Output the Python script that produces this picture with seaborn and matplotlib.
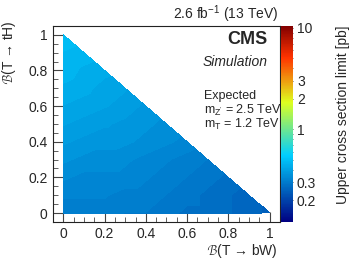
import numpy as np
import matplotlib
matplotlib.use("Agg")
import matplotlib.pyplot as plt
import matplotlib.tri as mtri
from matplotlib.colors import LogNorm, LinearSegmentedColormap
from matplotlib.ticker import MultipleLocator, NullFormatter, LogLocator, FuncFormatter
import seaborn as sns

# B(T->bW) grid values
bw_values = [0.0, 0.1, 0.2, 0.3, 0.4, 0.5, 0.6, 0.7, 0.8, 0.9, 1.0]
# B(T->tH) grid values
th_values = [0.0, 0.1, 0.2, 0.3, 0.4, 0.5, 0.6, 0.7, 0.8, 0.9, 1.0]
# expected limits [pb], one row per B(T->tH) value, columns over B(T->bW) with bW+tH<=1
limit_rows = [
    [0.31, 0.31, 0.31, 0.30, 0.30, 0.29, 0.28, 0.28, 0.27, 0.26, 0.25],
    [0.32, 0.32, 0.32, 0.31, 0.31, 0.30, 0.29, 0.28, 0.27, 0.26],
    [0.34, 0.33, 0.33, 0.33, 0.32, 0.31, 0.30, 0.29, 0.28],
    [0.36, 0.35, 0.35, 0.34, 0.33, 0.32, 0.31, 0.30],
    [0.38, 0.37, 0.36, 0.36, 0.35, 0.34, 0.33],
    [0.40, 0.39, 0.38, 0.37, 0.36, 0.35],
    [0.42, 0.41, 0.40, 0.39, 0.37],
    [0.44, 0.43, 0.41, 0.40],
    [0.46, 0.44, 0.43],
    [0.47, 0.46],
    [0.49],
]
cbar_ticks = [0.2, 0.3, 1, 2, 3, 10]
cbar_ticklabels = ["0.2", "0.3", "1", "2", "3", "10"]

sns.set_style("ticks")
plt.rcParams["font.family"] = ["Liberation Sans", "DejaVu Sans"]
plt.rcParams["mathtext.fontset"] = "custom"
plt.rcParams["mathtext.rm"] = "Liberation Sans"
plt.rcParams["mathtext.it"] = "Liberation Sans:italic"

# ROOT-style rainbow palette
stops = [0.0, 0.34, 0.61, 0.84, 1.0]
reds = [0.0, 0.0, 0.87, 1.0, 0.51]
greens = [0.0, 0.81, 1.0, 0.2, 0.0]
blues = [0.51, 1.0, 0.12, 0.0, 0.0]
cmap = LinearSegmentedColormap.from_list(
    "rootrainbow", list(zip(stops, zip(reds, greens, blues))), N=256)

xs, ys, zs = [], [], []
for j, row in enumerate(limit_rows):
    for i, v in enumerate(row):
        xs.append(bw_values[i]); ys.append(th_values[j]); zs.append(v)
xs = np.array(xs); ys = np.array(ys); zs = np.array(zs)

fig = plt.figure(figsize=(3.49, 2.62), dpi=100)
ax = fig.add_axes([0.152, 0.153, 0.650, 0.748])
cax = fig.add_axes([0.805, 0.153, 0.034, 0.748])

vmin, vmax = 0.122, 10.45
norm = LogNorm(vmin=vmin, vmax=vmax)
tri = mtri.Triangulation(xs, ys)
levels = np.logspace(np.log10(vmin), np.log10(vmax), 80)
ax.tricontourf(tri, zs, levels=levels, cmap=cmap, norm=norm)

ax.set_xlim(-0.05, 1.05)
ax.set_ylim(-0.05, 1.05)
ax.xaxis.set_major_locator(MultipleLocator(0.2))
ax.xaxis.set_minor_locator(MultipleLocator(0.05))
ax.yaxis.set_major_locator(MultipleLocator(0.2))
ax.yaxis.set_minor_locator(MultipleLocator(0.05))
fmt = lambda v, p: ("%g" % round(v, 2))
ax.xaxis.set_major_formatter(FuncFormatter(fmt))
ax.yaxis.set_major_formatter(FuncFormatter(fmt))
ax.tick_params(which="major", length=7, width=0.8, labelsize=10, direction="in",
               color="#444444", pad=4)
ax.tick_params(which="minor", length=3.5, width=0.6, direction="in", color="#444444")
for s in ax.spines.values():
    s.set_linewidth(0.8)
    s.set_visible(True)
    s.set_color("#222222")

ax.set_xlabel(r"$\mathcal{B}$(T → bW)", fontsize=10, ha="right")
ax.xaxis.set_label_coords(0.99, -0.10)
ax.set_ylabel(r"$\mathcal{B}$(T → tH)", fontsize=10, ha="right")
ax.yaxis.set_label_coords(-0.155, 1.03)

sm = matplotlib.cm.ScalarMappable(norm=norm, cmap=cmap)
cb = fig.colorbar(sm, cax=cax)
cb.outline.set_visible(False)
cb.set_ticks(cbar_ticks)
cb.set_ticklabels(cbar_ticklabels)
cax.yaxis.set_minor_locator(LogLocator(base=10, subs=np.arange(2, 10) * 1.0))
cax.yaxis.set_minor_formatter(NullFormatter())
cax.tick_params(which="major", direction="in", length=5, width=0.6, labelsize=10,
                pad=3, color="#333333")
cax.tick_params(which="minor", direction="in", length=3, width=0.5, color="#333333")
cb.set_label("Upper cross section limit [pb]", fontsize=10, loc="top", labelpad=14)

fig.text(0.797, 1 - 19.0 / 262, r"2.6 fb$^{-1}$ (13 TeV)", ha="right", va="baseline",
         fontsize=10)
ax.text(0.947, 0.929, "CMS", transform=ax.transAxes, ha="right", va="center",
        fontsize=13, fontweight="bold")
ax.text(0.947, 0.816, "Simulation", transform=ax.transAxes, ha="right", va="center",
        fontsize=10, style="italic")
ax.text(0.665, 0.643, "Expected", transform=ax.transAxes, ha="left", va="center", fontsize=9)
ax.text(0.665, 0.571, r"m$_{\mathrm{Z'}}$ = 2.5 TeV", transform=ax.transAxes, ha="left",
        va="center", fontsize=9)
ax.text(0.665, 0.495, r"m$_{\mathrm{T}}$ = 1.2 TeV", transform=ax.transAxes, ha="left",
        va="center", fontsize=9)

fig.savefig("out.png", dpi=100)
